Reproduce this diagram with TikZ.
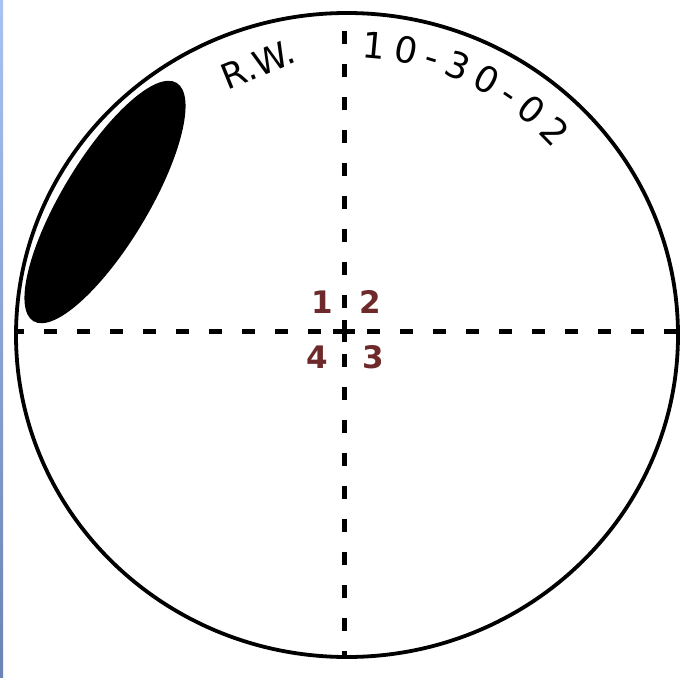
\documentclass[tikz,border=0pt]{standalone}
\usepackage{fontspec}
\setmainfont{DejaVu Sans}
\usepackage{xcolor}
\usetikzlibrary{decorations.text}

\definecolor{quadred}{HTML}{6E2A2A}
\definecolor{stripA}{HTML}{A9C2EF}
\definecolor{stripB}{HTML}{6D82B5}

\begin{document}
\begin{tikzpicture}[
  x=1pt,y=-1pt,
  rim/.style={line width=3.8pt},
  axis/.style={line width=5pt,dash pattern=on 13pt off 20pt,dash phase=10pt},
  quad/.style={font=\bfseries\fontsize{31}{31}\selectfont,text=quadred,inner sep=0pt},
  hand/.style={font=\fontsize{35}{35}\selectfont,inner sep=0pt}
]
\useasboundingbox (0,0) rectangle (698,677);
\shade[top color=stripA,bottom color=stripB] (0,0) rectangle (3,677);

\coordinate (c0) at (347,335);
\coordinate (c)  at (344,331);
\coordinate (w)  at (18,331);
\coordinate (e)  at (677,331);
\coordinate (n)  at (344,14);
\coordinate (s)  at (344,656);

% plate
\draw[rim] (c0) ellipse[x radius=331,y radius=322];
\fill[rotate around={59:(105,202)}] (105,202) ellipse[x radius=139,y radius=43];

% axes
\draw[axis] (c)--(w);
\draw[axis] (c)--(e);
\draw[axis] (c)--(n);
\draw[axis] (c)--(s);
\draw[line width=5pt] (c) +(-11,0) -- +(11,0) (c) +(0,-11) -- +(0,11);

\node[quad] (q1) at (322,302) {1};
\node[quad] (q2) at (370,302) {2};
\node[quad] (q3) at (373,357) {3};
\node[quad] (q4) at (317,357) {4};

% writing
\node[hand,rotate=22] (rw) at (258,64) {R.W.};
\path[decorate,decoration={text along path,text align=fit to path,
    text={|\fontsize{36}{36}\selectfont|10-30-02}}]
  (c0) ++(-87:278) arc[start angle=-87,end angle=-42,radius=278];
\end{tikzpicture}
\end{document}
